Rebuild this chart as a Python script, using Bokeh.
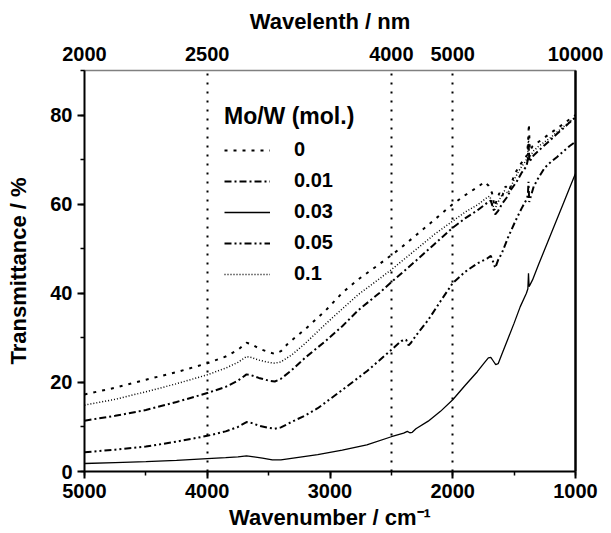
from bokeh.plotting import figure
from bokeh.models import (Range1d, LinearAxis, FixedTicker, SingleIntervalTicker,
                          Grid, Legend, LegendItem, ColumnDataSource)
from bokeh.embed import file_html
from bokeh.resources import INLINE

# ---------------- data ----------------
wavelength_nm = [2000, 2500, 4000, 5000, 10000]          # top axis tick labels
series_labels = ["0", "0.01", "0.03", "0.05", "0.1"]

wn_0 = [5000, 4750, 4500, 4250, 4000, 3850, 3750, 3680, 3640, 3580, 3500, 3450, 3400, 3340,
        3200, 3040, 2900, 2770, 2600, 2440, 2300, 2150, 2000, 1900, 1800, 1740, 1710, 1680,
        1660, 1640, 1620, 1600, 1570, 1540, 1500, 1460, 1420, 1395, 1385, 1380, 1372, 1350,
        1300, 1250, 1200, 1150, 1100, 1050, 1000]
t_0 = [17.3, 18.8, 20.6, 22.3, 24.3, 25.8, 27.3, 28.9, 28.6, 27.6, 26.8, 26.4, 27.0, 28.8,
       32.0, 36.0, 40.1, 43.1, 46.5, 49.8, 53.0, 56.5, 60.0, 62.0, 63.8, 65.0, 64.2, 62.5,
       59.5, 61.0, 62.5, 61.5, 64.0, 63.0, 66.5, 68.5, 70.0, 71.0, 74.5, 78.0, 72.0, 73.0,
       74.0, 75.0, 76.0, 77.0, 78.0, 79.0, 80.0]

wn_001 = [5000, 4750, 4500, 4250, 4000, 3850, 3750, 3680, 3640, 3580, 3500, 3450, 3400, 3310,
          3200, 3040, 2900, 2770, 2600, 2500, 2300, 2150, 2000, 1900, 1800, 1720, 1690, 1670,
          1654, 1630, 1600, 1560, 1520, 1480, 1440, 1400, 1388, 1383, 1375, 1340, 1300, 1250,
          1200, 1150, 1100, 1050, 1000]
t_001 = [11.4, 12.5, 13.8, 15.6, 17.6, 19.0, 20.4, 21.8, 21.6, 21.0, 20.4, 20.2, 20.8, 22.8,
         25.6, 29.2, 32.6, 36.2, 40.0, 42.5, 47.3, 51.0, 54.7, 56.8, 58.6, 60.3, 60.8, 59.0,
         57.7, 58.5, 60.0, 61.5, 63.5, 65.0, 67.0, 68.5, 70.0, 73.5, 69.5, 71.0, 72.0, 73.3,
         74.5, 75.8, 77.0, 78.3, 79.5]

wn_003 = [5000, 4750, 4500, 4250, 4000, 3850, 3750, 3680, 3620, 3550, 3470, 3400, 3300, 3200,
          3100, 2900, 2700, 2500, 2400, 2370, 2350, 2330, 2300, 2200, 2100, 2000, 1900, 1800,
          1740, 1710, 1690, 1670, 1650, 1630, 1600, 1550, 1500, 1450, 1400, 1388, 1383, 1378,
          1350, 1300, 1200, 1100, 1050, 1000]
t_003 = [1.8, 2.0, 2.2, 2.5, 2.9, 3.1, 3.3, 3.5, 3.3, 3.0, 2.6, 2.6, 3.0, 3.4,
         3.8, 4.8, 6.0, 7.8, 8.6, 9.0, 8.7, 8.8, 9.6, 11.3, 13.5, 16.1, 19.3, 22.4,
         24.5, 25.5, 25.6, 24.8, 24.0, 24.2, 26.3, 29.8, 33.3, 37.0, 40.0, 41.0, 44.5, 41.5,
         43.0, 46.5, 53.3, 60.1, 63.5, 66.9]

wn_005 = [5000, 4750, 4500, 4250, 4000, 3850, 3750, 3680, 3640, 3580, 3500, 3450, 3400, 3300,
          3200, 3100, 2900, 2700, 2500, 2420, 2380, 2360, 2340, 2300, 2200, 2100, 2000, 1900,
          1800, 1720, 1690, 1670, 1654, 1630, 1600, 1550, 1490, 1440, 1400, 1388, 1383, 1377,
          1340, 1300, 1250, 1200, 1150, 1100, 1050, 1000]
t_005 = [4.3, 4.9, 5.6, 6.7, 8.0, 9.0, 10.0, 11.1, 10.9, 10.3, 9.8, 9.6, 9.9, 11.3,
         12.6, 14.2, 18.3, 22.5, 27.3, 29.3, 29.6, 28.3, 28.9, 30.5, 34.0, 38.2, 42.3, 44.8,
         46.7, 47.8, 48.4, 47.0, 45.7, 47.5, 49.0, 52.5, 56.2, 59.0, 61.0, 62.0, 65.0, 60.5,
         64.0, 66.0, 68.2, 69.5, 70.6, 71.8, 73.0, 74.0]

wn_01 = [5000, 4750, 4500, 4250, 4000, 3850, 3750, 3680, 3640, 3580, 3500, 3450, 3400, 3310,
         3200, 3040, 2900, 2770, 2600, 2500, 2300, 2150, 2000, 1900, 1790, 1730, 1700, 1680,
         1660, 1640, 1610, 1580, 1550, 1500, 1450, 1410, 1390, 1383, 1376, 1340, 1300, 1250,
         1200, 1150, 1100, 1050, 1000]
t_01 = [14.9, 16.2, 17.9, 19.7, 21.7, 23.2, 24.5, 25.8, 25.6, 25.0, 24.5, 24.3, 24.6, 26.2,
        28.8, 33.0, 36.5, 39.7, 43.2, 45.3, 49.8, 53.2, 56.2, 58.2, 60.0, 61.3, 61.8, 60.5,
        58.5, 60.0, 61.5, 63.0, 62.5, 65.5, 68.0, 69.5, 70.5, 75.0, 70.5, 72.0, 73.0, 74.0,
        75.0, 76.2, 77.3, 78.5, 79.5]

FONT = "Liberation Sans"

p = figure(width=603, height=533, output_backend="svg", toolbar_location=None,
           x_range=Range1d(5000, 1000), y_range=Range1d(0, 90),
           min_border_left=84, min_border_right=28, min_border_top=70, min_border_bottom=62)
p.outline_line_color = None
p.xgrid.visible = False
p.ygrid.visible = False
p.background_fill_color = "white"
p.border_fill_color = "white"


def style_axis(ax):
    ax.axis_line_color = "black"
    ax.axis_line_width = 2
    ax.major_tick_line_color = "black"
    ax.major_tick_line_width = 2
    ax.minor_tick_line_color = "black"
    ax.minor_tick_line_width = 1.5
    ax.major_tick_in = 0
    ax.minor_tick_in = 0
    ax.major_tick_out = 7
    ax.minor_tick_out = 4
    ax.major_label_text_font = FONT
    ax.major_label_text_font_style = "bold"
    ax.major_label_text_font_size = "20px"
    ax.major_label_text_color = "black"
    ax.axis_label_text_font = FONT
    ax.axis_label_text_font_style = "bold"
    ax.axis_label_text_font_size = "22px"
    ax.axis_label_text_color = "black"


xa = p.xaxis[0]
style_axis(xa)
xa.ticker = SingleIntervalTicker(interval=1000, num_minor_ticks=2)
xa.axis_label = "Wavenumber / cm\u207b\u00b9"
xa.major_label_standoff = 5
xa.axis_label_standoff = 4

ya = p.yaxis[0]
style_axis(ya)
ya.ticker = SingleIntervalTicker(interval=20, num_minor_ticks=2)
ya.axis_label = "Transmittance / %"
ya.major_label_standoff = 5
ya.axis_label_standoff = 16

# top axis: wavelength in nm, placed at wavenumber = 1e7 / nm
top_pos = [1e7 / w for w in wavelength_nm]
top = LinearAxis(ticker=FixedTicker(ticks=top_pos, minor_ticks=[]))
style_axis(top)
top.major_label_overrides = {pos: str(w) for pos, w in zip(top_pos, wavelength_nm)}
top.axis_label = "Wavelenth / nm"
top.axis_line_width = 1.5
top.axis_line_dash = "1 1"
top.major_tick_out = 0
top.minor_tick_out = 0
top.major_label_standoff = 10
top.axis_label_standoff = 10
p.add_layout(top, "above")

right = LinearAxis(ticker=FixedTicker(ticks=[], minor_ticks=[]))
right.axis_line_width = 2.5
right.axis_line_color = "black"
right.major_tick_out = 0
right.minor_tick_out = 0
right.major_label_text_font_size = "0px"
right.major_label_standoff = 0
p.add_layout(right, "right")

# dotted vertical guides at the inner wavelength ticks
guide = Grid(dimension=0, ticker=FixedTicker(ticks=top_pos[1:-1], minor_ticks=[]),
             grid_line_color="black", grid_line_dash="2 7", grid_line_width=2)
p.add_layout(guide)

styles = [
    dict(line_dash="3 6", line_width=2),
    dict(line_dash="7 3 2 3", line_width=2),
    dict(line_dash="solid", line_width=1.3),
    dict(line_dash="7 3 2 3 2 3", line_width=2),
    dict(line_dash="1 2", line_width=1.5),
]
xs = [wn_0, wn_001, wn_003, wn_005, wn_01]
ys = [t_0, t_001, t_003, t_005, t_01]

items = []
for lab, x, y, st in zip(series_labels, xs, ys, styles):
    src = ColumnDataSource(dict(x=x, y=y))
    r = p.line("x", "y", source=src, line_color="black", **st)
    items.append(LegendItem(label=lab, renderers=[r]))

legend = Legend(items=items, title="Mo/W (mol.)", location=(140, 186),
                title_text_font=FONT, title_text_font_style="bold",
                title_text_font_size="23px", title_standoff=8, title_text_color="black",
                label_text_font=FONT, label_text_font_style="bold",
                label_text_font_size="20px", label_height=20, label_text_color="black",
                glyph_width=46, glyph_height=20, label_standoff=24,
                spacing=8, padding=0, margin=0,
                border_line_alpha=0, background_fill_alpha=0)
p.add_layout(legend)

open("out.html", "w").write(file_html(p, INLINE))
